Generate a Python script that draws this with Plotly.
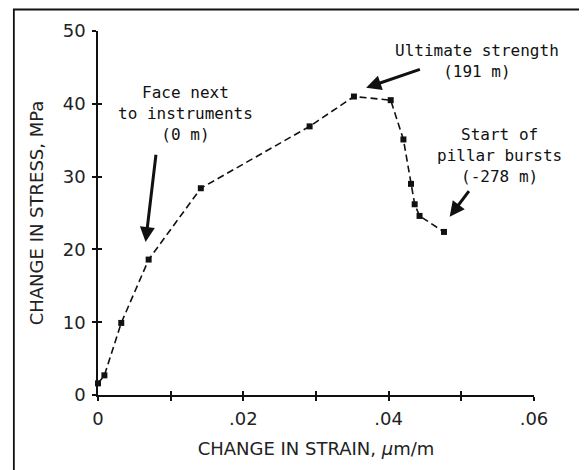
import plotly.graph_objects as go

strain = [0.0, 0.00088, 0.0032, 0.00697, 0.01415, 0.02912, 0.03522, 0.04028,
          0.04203, 0.04307, 0.04358, 0.04425, 0.04761]
stress = [1.6, 2.7, 9.9, 18.6, 28.4, 36.9, 41.0, 40.5, 35.1, 29.0, 26.2, 24.6, 22.4]

x_ticks = [0, 0.01, 0.02, 0.03, 0.04, 0.05, 0.06]
x_tick_text = ["0", "", ".02", "", ".04", "", ".06"]
y_ticks = [0, 10, 20, 30, 40, 50]

notes = ["Face next<br>to instruments<br>(0 m)",
         "Ultimate strength<br>(191 m)",
         "Start of<br>pillar bursts<br>(-278 m)"]
note_x = [0.0121, 0.0521, 0.0553]
note_y = [38.6, 45.9, 32.9]
arrow_head_x = [0.00655, 0.0369, 0.0484]
arrow_head_y = [21.0, 42.2, 24.5]
arrow_tail_x = [0.0080, 0.0445, 0.0512]
arrow_tail_y = [33.2, 44.8, 28.2]

TICKFONT = dict(family="DejaVu Sans", size=18, color="#222")
TITLEFONT = dict(family="DejaVu Sans", size=18, color="#222")
NOTEFONT = dict(family="DejaVu Sans Mono", size=16, color="#111")

fig = go.Figure()
fig.add_trace(go.Scatter(
    x=strain, y=stress, mode="lines+markers",
    line=dict(color="#111", width=1.6, dash="7px,4px"),
    marker=dict(symbol="square", size=6, color="#111"),
    cliponaxis=False, showlegend=False, hoverinfo="skip"))
# invisible trace on overlay axes (for inward tick marks -> crossing ticks)
fig.add_trace(go.Scatter(x=[None], y=[None], xaxis="x2", yaxis="y2",
                         showlegend=False, hoverinfo="skip"))

axis_common = dict(showgrid=False, zeroline=False, showline=True,
                   linecolor="#111", linewidth=1.6, tickcolor="#111",
                   tickwidth=1.5)
fig.update_layout(
    width=579, height=462,
    margin=dict(l=90, r=53, t=23, b=75),
    paper_bgcolor="white", plot_bgcolor="white",
    xaxis=dict(range=[0, 0.06], tickvals=x_ticks, ticktext=x_tick_text,
               ticks="outside", ticklen=4, tickfont=TICKFONT,
               ticklabelstandoff=3,
               title=dict(text="CHANGE IN STRAIN, <i>μ</i>m/m",
                          font=TITLEFONT, standoff=14),
               **axis_common),
    yaxis=dict(range=[0, 50], tickvals=y_ticks, ticks="outside", ticklen=4,
               tickfont=TICKFONT, ticklabelstandoff=3,
               title=dict(text="CHANGE IN STRESS, MPa",
                          font=TITLEFONT, standoff=14),
               **axis_common),
    xaxis2=dict(range=[0, 0.06], overlaying="x", tickvals=x_ticks,
                ticks="inside", ticklen=4, showticklabels=False, showgrid=False,
                zeroline=False, showline=False, tickcolor="#111", tickwidth=1.5,
                anchor="y2", side="bottom"),
    yaxis2=dict(range=[0, 50], overlaying="y", tickvals=y_ticks,
                ticks="inside", ticklen=4, showticklabels=False, showgrid=False,
                zeroline=False, showline=False, tickcolor="#111", tickwidth=1.5,
                anchor="x2", side="left"),
)

# outer frame
fig.add_shape(type="rect", xref="paper", yref="paper",
              x0=-0.193, x1=1.122, y0=-0.3, y1=1.059,
              line=dict(color="#111", width=1.8), fillcolor="rgba(0,0,0,0)")

for t, x, y in zip(notes, note_x, note_y):
    fig.add_annotation(x=x, y=y, text=t, showarrow=False, font=NOTEFONT,
                       xanchor="center", yanchor="middle", align="center")
for hx, hy, tx, ty in zip(arrow_head_x, arrow_head_y, arrow_tail_x, arrow_tail_y):
    fig.add_annotation(x=hx, y=hy, ax=tx, ay=ty, axref="x", ayref="y",
                       text="", showarrow=True, arrowhead=2, arrowsize=1,
                       arrowwidth=3, arrowcolor="#111", standoff=0)

fig.write_html("out.html")
